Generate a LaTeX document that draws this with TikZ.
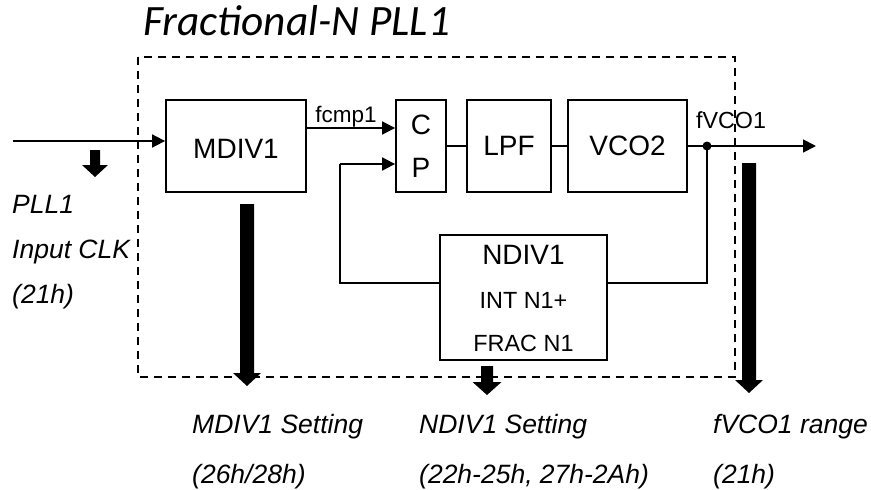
\documentclass[tikz,border=0pt]{standalone}
\usepackage{fontspec}
\setmainfont{Liberation Sans}
\newfontfamily\titlefont{Carlito}
\usetikzlibrary{arrows.meta}
\tikzset{
  blk/.style={draw, line width=1.8pt, inner sep=0pt, anchor=center},
  wire/.style={line width=1.8pt},
  arr/.style={wire, -{Triangle[length=13pt,width=13pt]}},
  frame/.style={line width=2pt, dash pattern=on 8pt off 6pt},
  lbl/.style={inner sep=0pt, font=\fontsize{28}{32}\selectfont},
  sml/.style={inner sep=0pt, font=\fontsize{23.4}{26}\selectfont},
  note/.style={inner sep=0pt, anchor=base west, font=\fontsize{26.5}{30}\selectfont\itshape},
}
\newcommand{\blockarr}[6]{%
  \fill ({#1-#5/2},#2) -- ({#1+#5/2},#2) -- ({#1+#5/2},#3) -- ({#1+#6/2},#3)
     -- (#1,#4) -- ({#1-#6/2},#3) -- ({#1-#5/2},#3) -- cycle;}
\begin{document}
\begin{tikzpicture}[x=1pt,y=-1pt]
\useasboundingbox (0,0) rectangle (871,490);
% title
\node[inner sep=0pt, anchor=base west, font=\titlefont\fontsize{43.3}{46}\selectfont\itshape] (title) at (143,35) {Fractional-N PLL1};
% dashed frame
\draw[frame] (138,57) rectangle (735,377);
% boxes
\node[blk, minimum width=140pt, minimum height=92pt] (mdiv) at (236,146) {};
\node[lbl] (mdivt) at (236,149) {MDIV1};
\node[blk, minimum width=50pt, minimum height=92pt] (cp) at (421,146) {};
\node[lbl] (cpc) at (421,125) {C};
\node[lbl] (cpp) at (421,168) {P};
\node[blk, minimum width=84pt, minimum height=92pt] (lpf) at (509,146) {};
\node[lbl] (lpft) at (509,146) {LPF};
\node[blk, minimum width=119pt, minimum height=92pt] (vco) at (627.5,146) {};
\node[lbl] (vcot) at (627.5,146) {VCO2};
\node[blk, minimum width=167pt, minimum height=125pt] (ndiv) at (523.5,297.5) {};
\node[lbl] (ndivt) at (523.5,255) {NDIV1};
\node[sml] (intn) at (523.5,300) {INT N1+};
\node[sml] (fracn) at (523.5,343) {FRAC N1};
% coordinates
\coordinate (inS) at (13,141);
\coordinate (dot) at (707,146);
\coordinate (outE) at (816,146);
\coordinate (fbR) at (707,283);
\coordinate (fbL) at (340,283);
\coordinate (fbU) at (340,164);
% connectors
\draw[arr] (inS) -- (mdiv.west |- inS);
\draw[arr] (mdiv.east |- 0,128) -- (cp.west |- 0,128);
\draw[wire] (cp.east) -- (lpf.west);
\draw[wire] (lpf.east) -- (vco.west);
\draw[arr] (vco.east) -- (outE);
\fill (dot) circle (4.5pt);
\draw[wire] (dot) -- (fbR) -- (ndiv.east |- fbR);
\draw[wire] (ndiv.west |- fbL) -- (fbL) -- (fbU);
\draw[arr] (fbU) -- (cp.west |- fbU);
% labels
\node[inner sep=0pt, anchor=base, font=\fontsize{22.5}{24}\selectfont] (fcmp) at (346,122) {fcmp1};
\node[inner sep=0pt, anchor=base, font=\fontsize{23.3}{24}\selectfont] (fvco) at (731,128) {fVCO1};
% block arrows
\blockarr{95}{150}{165}{177}{10}{26}
\blockarr{247}{204}{373}{386}{14}{28}
\blockarr{487}{366}{382}{395}{12}{29}
\blockarr{749}{163}{380}{393}{14}{28}
% notes
\node[note] (n1) at (12,213) {PLL1};
\node[note] (n2) at (12,258) {Input CLK};
\node[note] (n3) at (12,303) {(21h)};
\node[note] (m1) at (192,433) {MDIV1 Setting};
\node[note] (m2) at (192,483) {(26h/28h)};
\node[note] (d1) at (419,433) {NDIV1 Setting};
\node[note] (d2) at (419,483) {(22h-25h, 27h-2Ah)};
\node[note] (f1) at (713,433) {fVCO1 range};
\node[note] (f2) at (713,483) {(21h)};
\end{tikzpicture}
\end{document}
